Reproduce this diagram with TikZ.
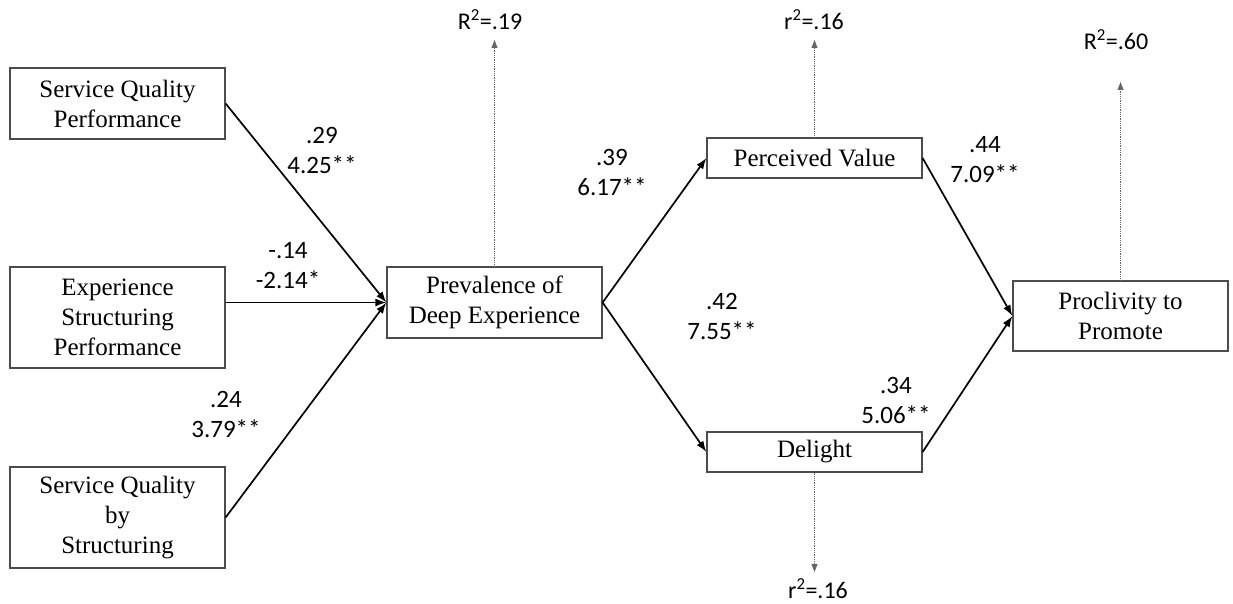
\documentclass[tikz,border=0pt]{standalone}
\usepackage{fontspec}
\setmainfont{Liberation Serif}
\newfontfamily\calib{Carlito}
\usetikzlibrary{arrows.meta}
\tikzset{
  box/.style={draw=black!70, line width=1.2pt, minimum width=215pt, inner sep=0pt, align=center,
    font=\fontsize{25}{30}\selectfont},
  coef/.style={align=center, font=\calib\fontsize{25}{30}\selectfont, inner sep=0pt},
  rlab/.style={font=\calib\fontsize{24}{28}\selectfont, inner sep=0pt},
  path/.style={line width=1.7pt, -{Latex[length=11pt,width=8pt]}},
  resid/.style={draw=black!60, line width=0.8pt, densely dotted, -{Triangle[length=8pt,width=6pt]}}
}
\begin{document}
\begin{tikzpicture}[x=1pt,y=-1pt]
\useasboundingbox (0,0) rectangle (1233,604);
% boxes
\node[box, minimum height=71pt] (sqp) at (117.5,103.5) {Service Quality\\Performance};
\node[box, minimum height=101pt] (esp) at (117.5,317.5) {Experience\\Structuring\\Performance};
\node[box, minimum height=101pt] (sqs) at (117.5,517.5) {Service Quality\\by\\Structuring};
\node[box, minimum height=71pt] (pde) at (494.5,302.5) {Prevalence of\\Deep Experience};
\node[box, minimum height=40pt] (pv) at (814.5,158) {Perceived Value};
\node[box, minimum height=40pt] (del) at (814.5,452) {Delight};
\node[box, minimum height=70pt] (pp) at (1120.5,316) {Proclivity to\\Promote};
% paths
\draw[path] (sqp.east) -- (pde.west);
\draw[path] (esp.east |- pde.west) -- (pde.west);
\draw[path] (sqs.east) -- (pde.west);
\draw[path] (pde.east) -- (pv.west);
\draw[path] (pde.east) -- (del.west);
\draw[path] (pv.east) -- (pp.west);
\draw[path] (del.east) -- (pp.west);
% coefficient labels
\node[coef] (c1) at (322,150) {.29\\4.25**};
\node[coef] (c2) at (288,266) {-.14\\-2.14*};
\node[coef] (c3) at (226,414) {.24\\3.79**};
\node[coef] (c4) at (612,172) {.39\\6.17**};
\node[coef] (c5) at (722,316) {.42\\7.55**};
\node[coef] (c6) at (985,160) {.44\\7.09**};
\node[coef] (c7) at (896,400) {.34\\5.06**};
% residual / R2
\coordinate (t1) at (494.5,40);
\coordinate (t2) at (814.5,40);
\coordinate (t3) at (1120.5,82);
\coordinate (t4) at (814.5,572);
\draw[resid] (pde.north) -- (t1);
\draw[resid] (pv.north) -- (t2);
\draw[resid] (pp.north) -- (t3);
\draw[resid] (del.south) -- (t4);
\node[rlab] (r1) at (490,20) {R\textsuperscript{2}=.19};
\node[rlab] (r2) at (814,20) {r\textsuperscript{2}=.16};
\node[rlab] (r3) at (1116,40) {R\textsuperscript{2}=.60};
\node[rlab] (r4) at (818,589) {r\textsuperscript{2}=.16};
\end{tikzpicture}
\end{document}
